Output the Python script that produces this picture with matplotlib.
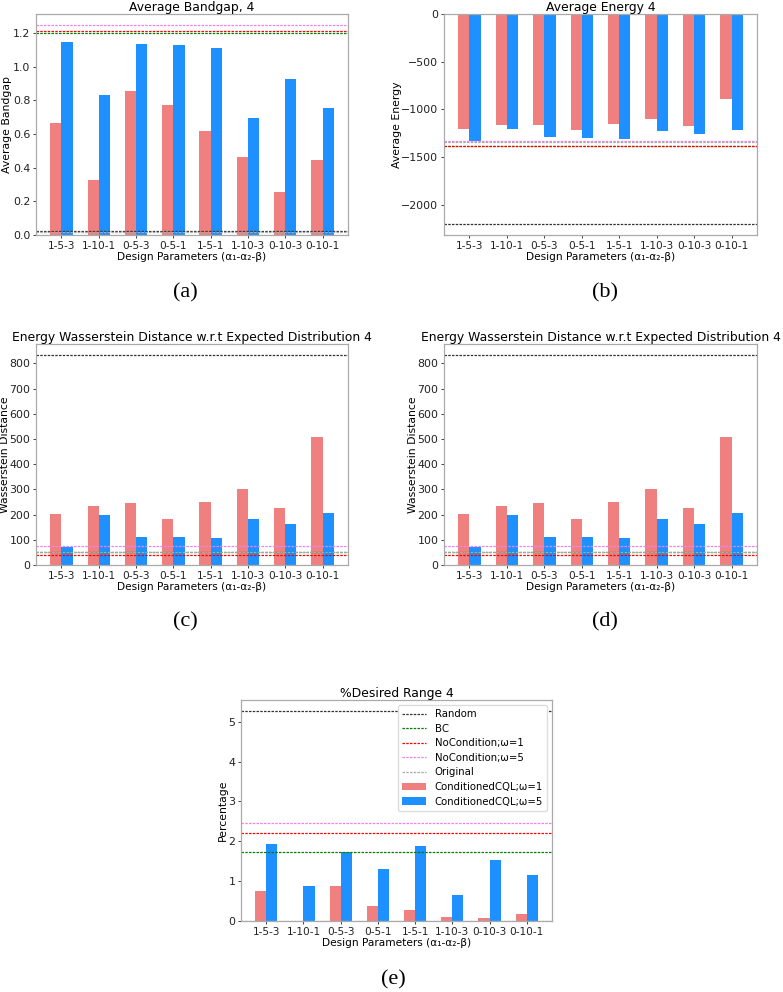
import numpy as np
import matplotlib.pyplot as plt

params = ['1-5-3', '1-10-1', '0-5-3', '0-5-1', '1-5-1', '1-10-3', '0-10-3', '0-10-1']

# bar values: ConditionedCQL w=1 (red) / w=5 (blue)
bandgap_w1 = [0.664, 0.329, 0.855, 0.775, 0.618, 0.465, 0.254, 0.448]
bandgap_w5 = [1.148, 0.832, 1.135, 1.127, 1.114, 0.695, 0.930, 0.756]
energy_w1 = [-1208, -1169, -1163, -1222, -1152, -1103, -1176, -893]
energy_w5 = [-1337, -1208, -1292, -1299, -1310, -1229, -1260, -1215]
wdist_w1 = [204, 234, 246, 183, 250, 301, 226, 508]
wdist_w5 = [73, 200, 110, 113, 107, 183, 162, 205]
desired_w1 = [0.76, 0.0, 0.88, 0.38, 0.27, 0.11, 0.075, 0.18]
desired_w5 = [1.92, 0.88, 1.73, 1.31, 1.88, 0.64, 1.54, 1.15]

# reference lines: Random, BC, NoCondition w=1, NoCondition w=5, Original
bandgap_ref = [0.022, 1.200, 1.211, 1.251, 0.016]
energy_ref = [-2209, -1384, -1381, -1337, -1342]
wdist_ref = [835, 53, 40, 77, 50]
desired_ref = [5.28, 1.73, 2.20, 2.47, 0.0]

ref_names = ['Random', 'BC', 'NoCondition;ω=1', 'NoCondition;ω=5', 'Original']
ref_colors = ['#333333', 'green', 'red', 'violet', 'darkgray']

W, H = 783, 992
fig = plt.figure(figsize=(W / 100, H / 100), dpi=100)


def make_ax(left, top, right, bottom):
    return fig.add_axes([left / W, 1 - bottom / H, (right - left) / W, (bottom - top) / H])


def draw_panel(ax, v1, v5, refs, title, ylabel, label_off, legend=False):
    x = np.arange(len(params))
    for name, val, col in zip(ref_names, refs, ref_colors):
        ax.axhline(val, color=col, ls=(0, (2, 1)), lw=0.9, label=name)
    ax.bar(x - 0.15, v1, 0.3, color='lightcoral', label='ConditionedCQL;ω=1')
    ax.bar(x + 0.15, v5, 0.3, color='dodgerblue', label='ConditionedCQL;ω=5')
    ax.set_xticks(x)
    ax.set_xticklabels(params, fontsize=7.6)
    ax.tick_params(axis='y', labelsize=7.9)
    ax.tick_params(colors='#222222', length=2, width=0.6, pad=2)
    for s in ax.spines.values():
        s.set_color('#aaaaaa')
        s.set_linewidth(0.9)
    ax.set_title(title, fontsize=8.9, pad=2)
    ax.set_ylabel(ylabel, fontsize=7.8)
    ax.yaxis.set_label_coords(label_off / 312, 0.5)
    ax.set_xlabel('Design Parameters (α₁-α₂-β)', fontsize=7.6, labelpad=1)
    if legend:
        ax.legend(loc='upper right', fontsize=7.3, handlelength=2.4,
                  borderpad=0.4, labelspacing=0.45, framealpha=1, edgecolor='#dddddd')


ax_a = make_ax(36, 14, 348, 235)
draw_panel(ax_a, bandgap_w1, bandgap_w5, bandgap_ref, 'Average Bandgap, 4', 'Average Bandgap', -24)
ax_b = make_ax(444, 14, 757, 235)
draw_panel(ax_b, energy_w1, energy_w5, energy_ref, 'Average Energy 4', 'Average Energy', -42)
ax_c = make_ax(36, 344, 348, 565)
draw_panel(ax_c, wdist_w1, wdist_w5, wdist_ref,
           'Energy Wasserstein Distance w.r.t Expected Distribution 4', 'Wasserstein Distance', -26)
ax_d = make_ax(444, 344, 757, 565)
draw_panel(ax_d, wdist_w1, wdist_w5, wdist_ref,
           'Energy Wasserstein Distance w.r.t Expected Distribution 4', 'Wasserstein Distance', -26)
ax_e = make_ax(241, 700, 552, 921)
draw_panel(ax_e, desired_w1, desired_w5, desired_ref, '%Desired Range 4', 'Percentage', -13,
           legend=True)

captions = [('(a)', 185, 293), ('(b)', 605, 293), ('(c)', 185, 622),
            ('(d)', 605, 622), ('(e)', 393, 980)]
for txt, cx, cy in captions:
    fig.text(cx / W, 1 - cy / H, txt, ha='center', va='center',
             fontsize=16, family='Liberation Serif')

fig.savefig('out.png', dpi=100)
